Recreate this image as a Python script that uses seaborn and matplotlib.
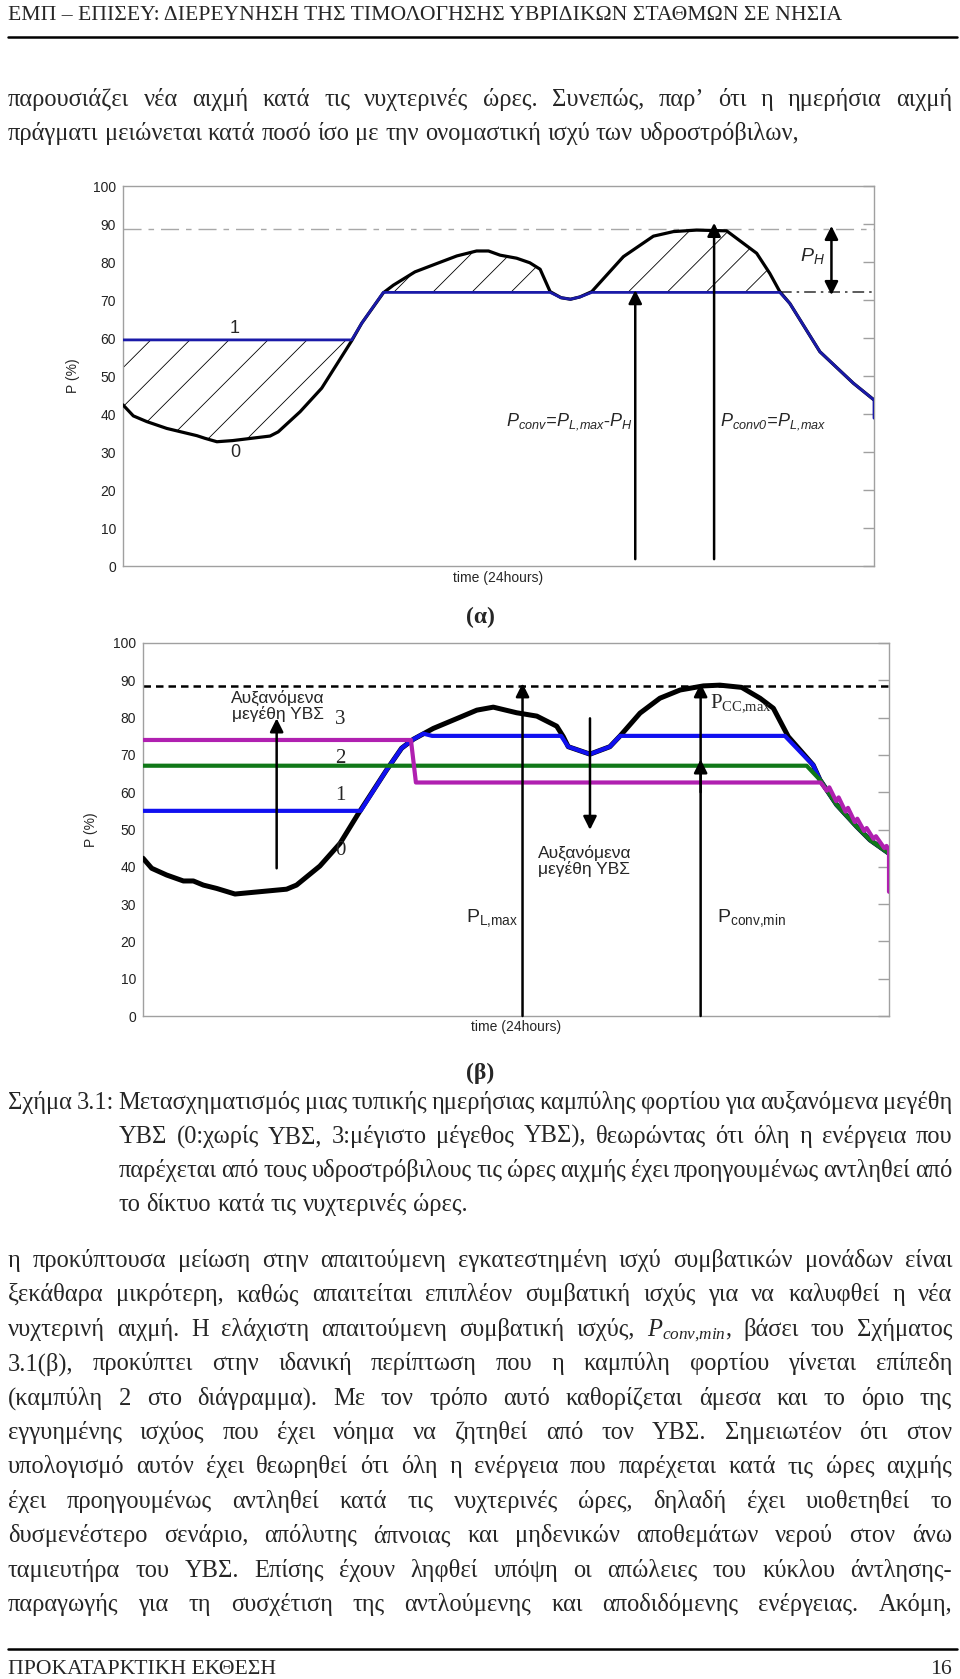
import matplotlib
matplotlib.use('Agg')
import numpy as np
import pandas as pd
import seaborn as sns
import matplotlib.pyplot as plt
from matplotlib.lines import Line2D

# ---------------- chart (α): load curve and shaved curve (1)
hours_a = [0, 0.33, 0.76, 1.40, 2.36, 2.62, 3.0, 3.5, 4.7, 4.96, 5.66, 6.35, 7.31, 7.63,
           8.32, 8.64, 9.33, 10.03, 10.67, 11.3, 11.68, 12.05, 12.58, 13.0, 13.33, 13.65,
           14.0, 14.3, 14.6, 14.98, 15.99, 16.95, 17.59, 18.33, 19.29, 20.25, 20.67, 20.99,
           21.31, 22.27, 23.34, 24.0]
load_a = [42.4, 39.5, 38.0, 36.2, 34.3, 33.6, 32.7, 33.0, 34.2, 35.3, 40.6, 46.8, 59.3, 63.9,
          71.9, 73.9, 77.4, 79.6, 81.6, 82.9, 82.9, 81.8, 81.0, 79.8, 78.1, 72.2,
          70.6, 70.2, 70.8, 72.2, 81.4, 86.8, 88.0, 88.4, 88.2, 82.3, 77.0, 72.2,
          69.1, 56.4, 48.1, 43.7]
shaved_h_a = [0, 7.31, 7.63, 8.32, 13.65, 14.0, 14.3, 14.6, 14.98, 20.99, 21.31, 22.27, 23.34, 24.0, 24.0]
shaved_a = [59.5, 59.5, 63.9, 72.0, 72.0, 70.6, 70.2, 70.8, 72.0, 72.0, 69.1, 56.4, 48.1, 43.7, 38.9]
valley_level_a = 59.5
cap_level_a = 72.0
peak_level_a = 88.6
# arrows (x, y_from, y_to)
arrows_a = [(16.37, 1.8, 72.6), (18.89, 1.8, 90.3)]
ph_arrow_a = (22.64, 71.3, 89.5)

# ---------------- chart (β): load curve and curves 1, 2, 3
hours_b = [0, 0.28, 0.76, 1.30, 1.62, 1.94, 2.37, 2.96, 4.62, 4.94, 5.69, 6.34, 6.93, 7.84,
           8.32, 8.70, 9.34, 10.2, 10.74, 11.27, 12.02, 12.67, 13.31, 13.52, 13.68, 14.38,
           15.02, 15.35, 15.99, 16.63, 17.28, 18.03, 18.56, 19.26, 19.85, 20.28, 20.76,
           21.56, 21.78, 22.32, 22.96, 23.39, 24.0]
load_b = [42.3, 39.6, 37.8, 36.2, 36.2, 35.1, 34.2, 32.7, 34.0, 35.1, 40.2, 46.3, 54.3, 66.0,
          71.8, 74.2, 77.1, 80.1, 82.0, 82.8, 81.3, 80.4, 77.7, 74.9, 72.2, 70.2,
          72.2, 75.1, 81.2, 85.2, 87.4, 88.5, 88.7, 88.1, 85.2, 82.5, 74.9,
          67.3, 63.3, 56.6, 50.8, 47.2, 43.6]
curve1_h = [0, 7.0, 7.84, 8.32, 8.70, 9.02, 9.3, 13.45, 13.68, 14.38, 15.02, 15.35, 20.65,
            21.33, 21.56, 21.78, 22.32, 22.96, 23.39, 24.0]
curve1 = [55.0, 55.0, 66.0, 71.8, 74.2, 75.7, 75.1, 75.1, 72.2, 70.2, 72.2, 75.1, 75.1,
          69.2, 67.3, 63.3, 56.6, 50.8, 47.2, 43.6]
curve2_h = [0, 21.35, 21.78, 22.32, 22.96, 23.39, 24.0]
curve2 = [67.1, 67.1, 63.3, 56.6, 50.8, 47.2, 43.6]
curve3_h = [0, 8.62, 8.78, 21.80, 22.0, 22.08, 22.3, 22.38, 22.6, 22.68, 22.9, 22.98, 23.2,
            23.28, 23.5, 23.58, 23.85, 23.92, 24.0, 24.0]
curve3 = [74.0, 74.0, 62.6, 62.6, 60.4, 61.3, 57.6, 58.6, 54.8, 55.8, 52.0, 52.9, 49.6,
          50.4, 47.5, 48.2, 45.0, 45.6, 44.5, 33.3]
pcc_level_b = 88.5
arrows_b = [(4.30, 39.6, 79.8), (12.21, 0.0, 89.2), (14.38, 79.8, 49.9),
            (17.94, 0.0, 89.2), (17.94, 60.0, 68.8)]

# ---------------- page text
header = "ΕΜΠ – ΕΠΙΣΕΥ: ΔΙΕΡΕΥΝΗΣΗ ΤΗΣ ΤΙΜΟΛΟΓΗΣΗΣ ΥΒΡΙΔΙΚΩΝ ΣΤΑΘΜΩΝ ΣΕ ΝΗΣΙΑ"
top_lines = ["παρουσιάζει νέα αιχμή κατά τις νυχτερινές ώρες. Συνεπώς, παρ’ ότι η ημερήσια αιχμή",
             "πράγματι μειώνεται κατά ποσό ίσο με την ονομαστική ισχύ των υδροστρόβιλων,"]
caption_lines = ["Σχήμα 3.1: Μετασχηματισμός μιας τυπικής ημερήσιας καμπύλης φορτίου για αυξανόμενα μεγέθη",
                 "ΥΒΣ (0:χωρίς ΥΒΣ, 3:μέγιστο μέγεθος ΥΒΣ), θεωρώντας ότι όλη η ενέργεια που",
                 "παρέχεται από τους υδροστρόβιλους τις ώρες αιχμής έχει προηγουμένως αντληθεί από",
                 "το δίκτυο κατά τις νυχτερινές ώρες."]
body_lines = ["η προκύπτουσα μείωση στην απαιτούμενη εγκατεστημένη ισχύ συμβατικών μονάδων είναι",
              "ξεκάθαρα μικρότερη, καθώς απαιτείται επιπλέον συμβατική ισχύς για να καλυφθεί η νέα",
              r"νυχτερινή αιχμή. Η ελάχιστη απαιτούμενη συμβατική ισχύς, $P_{conv{,}min}$, βάσει του Σχήματος",
              "3.1(β), προκύπτει στην ιδανική περίπτωση που η καμπύλη φορτίου γίνεται επίπεδη",
              "(καμπύλη 2 στο διάγραμμα). Με τον τρόπο αυτό καθορίζεται άμεσα και το όριο της",
              "εγγυημένης ισχύος που έχει νόημα να ζητηθεί από τον ΥΒΣ. Σημειωτέον ότι στον",
              "υπολογισμό αυτόν έχει θεωρηθεί ότι όλη η ενέργεια που παρέχεται κατά τις ώρες αιχμής",
              "έχει προηγουμένως αντληθεί κατά τις νυχτερινές ώρες, δηλαδή έχει υιοθετηθεί το",
              "δυσμενέστερο σενάριο, απόλυτης άπνοιας και μηδενικών αποθεμάτων νερού στον άνω",
              "ταμιευτήρα του ΥΒΣ. Επίσης έχουν ληφθεί υπόψη οι απώλειες του κύκλου άντλησης-",
              "παραγωγής για τη συσχέτιση της αντλούμενης και αποδιδόμενης ενέργειας. Ακόμη,"]
footer = "ΠΡΟΚΑΤΑΡΚΤΙΚΗ ΕΚΘΕΣΗ"
page_no = "16"

W, H = 960, 1679
sns.set_style('white')
plt.rcParams['font.family'] = ['Liberation Sans', 'DejaVu Sans']
plt.rcParams.update({
    'mathtext.fontset': 'custom',
    'mathtext.rm': 'Liberation Serif',
    'mathtext.it': 'Liberation Serif:italic',
    'mathtext.sf': 'Liberation Sans:italic',
    'mathtext.tt': 'Liberation Sans',
    'mathtext.bf': 'Liberation Serif:bold',
})

fig = plt.figure(figsize=(W / 100, H / 100), dpi=100)
rend = fig.canvas.get_renderer()
SERIF = 'Liberation Serif'


def fy(y):
    return 1 - y / H


def text_width(s, size, family=SERIF, **kw):
    t = fig.text(0, 0, s, fontsize=size, family=family, **kw)
    w = t.get_window_extent(rend).width
    t.remove()
    return w


SPACE15 = text_width('a a', 15) - text_width('aa', 15)


def put_line(s, x0, x1, y, size, justify=True):
    words = s.split(' ')
    arts = [fig.text(0, fy(y), w, fontsize=size, family=SERIF, va='baseline') for w in words]
    widths = [a.get_window_extent(rend).width for a in arts]
    if justify and len(words) > 1:
        gap = (x1 - x0 - sum(widths)) / (len(words) - 1)
    else:
        gap = SPACE15 * size / 15
    x, xs = x0, []
    for a, w in zip(arts, widths):
        a.set_x(x / W)
        xs.append(x)
        x += w + gap
    return xs


def fit_size(s, target, space_factor=1.0, base=15):
    words = s.split(' ')
    natural = sum(text_width(w, base) for w in words) + (len(words) - 1) * SPACE15 * space_factor
    return base * target / natural


def style_axes(ax):
    ax.set_xlim(0, 24)
    ax.set_ylim(0, 100)
    ax.set_xticks([])
    ax.set_yticks(range(0, 101, 10))
    ax.tick_params(axis='y', direction='in', length=8, color='#a0a0a0', width=1,
                   labelsize=10, labelcolor='#222222', right=True, labelright=False, pad=5)
    for sp in ax.spines.values():
        sp.set_color('#a0a0a0')
        sp.set_linewidth(1.0)
    ax.set_xlabel('time (24hours)', fontsize=10)
    ax.set_ylabel('P (%)', fontsize=10)


def hatch_region(ax, coll, step=0.052):
    # sparse diagonal hatch, clipped to each filled polygon
    bb = ax.get_position()
    ratio = (bb.width * W) / (bb.height * H)
    for p in coll.get_paths():
        for c in np.arange(-1.2, 1.1, step):
            ln, = ax.plot([c, c + 1 / ratio], [0, 1], transform=ax.transAxes,
                          color='black', lw=0.6, zorder=1)
            ln.set_clip_path(p, coll.get_transform())


# ================= chart (α)
ax1 = fig.add_axes([123 / W, 1 - 566 / H, 751 / W, 380 / H])
style_axes(ax1)
ax1.yaxis.set_label_coords(-0.057, 0.5)
ax1.xaxis.set_label_coords(0.5, -0.012)

ha = np.array(hours_a)
la = np.array(load_a)
ax1.axhline(peak_level_a, color='#a8a8a8', lw=1.0, dashes=(13, 5, 4, 5), zorder=1)
ax1.plot([20.99, 24], [cap_level_a, cap_level_a], color='#404040', lw=1.2,
         dashes=(7, 3, 1.5, 3), zorder=1)
c1 = ax1.fill_between(ha, la, valley_level_a, where=ha <= 7.31, interpolate=True,
                      facecolor='none', edgecolor='none')
c2 = ax1.fill_between(ha, la, cap_level_a, where=la >= cap_level_a, interpolate=True,
                      facecolor='none', edgecolor='none')
hatch_region(ax1, c1)
hatch_region(ax1, c2)

sns.lineplot(x=hours_a, y=load_a, ax=ax1, color='black', lw=2.3, sort=False,
             estimator=None, zorder=3)
sns.lineplot(x=shaved_h_a, y=shaved_a, ax=ax1, color='#1a1aa8', lw=2.0, sort=False,
             estimator=None, zorder=4)

for x, y0, y1 in arrows_a:
    ax1.annotate('', xy=(x, y1), xytext=(x, y0),
                 arrowprops=dict(arrowstyle='-|>', color='black', lw=1.8,
                                 mutation_scale=20, shrinkA=0, shrinkB=0), zorder=5)
x, y0, y1 = ph_arrow_a
ax1.annotate('', xy=(x, y1), xytext=(x, y0),
             arrowprops=dict(arrowstyle='<|-|>', color='black', lw=1.8,
                             mutation_scale=20, shrinkA=0, shrinkB=0), zorder=5)

ax1.text(3.58, 62.5, '1', fontsize=13, ha='center', va='center')
ax1.text(3.58, 29.8, '0', fontsize=13, ha='center', va='center')
ax1.text(22.04, 81.5, r'$\mathsf{P_H}$', fontsize=14, ha='center', va='center')
ax1.text(16.3, 38.0, r'$\mathsf{P_{conv}\!=\!P_{L{,}max}\text{-}P_H}$', fontsize=13,
         ha='right', va='center')
ax1.text(19.08, 38.0, r'$\mathsf{P_{conv0}\!=\!P_{L{,}max}}$', fontsize=13,
         ha='left', va='center')

# ================= chart (β)
ax2 = fig.add_axes([143 / W, 1 - 1016 / H, 746 / W, 373 / H])
style_axes(ax2)
ax2.yaxis.set_label_coords(-0.060, 0.5)
ax2.xaxis.set_label_coords(0.5, -0.012)

ax2.axhline(pcc_level_b, color='black', lw=1.8, dashes=(3, 2), zorder=1)
sns.lineplot(x=hours_b, y=load_b, ax=ax2, color='black', lw=3.6, sort=False,
             estimator=None, zorder=3)
sns.lineplot(x=curve1_h, y=curve1, ax=ax2, color='#1010f0', lw=3.0, sort=False,
             estimator=None, zorder=4)
sns.lineplot(x=curve2_h, y=curve2, ax=ax2, color='#107818', lw=3.0, sort=False,
             estimator=None, zorder=5)
sns.lineplot(x=curve3_h, y=curve3, ax=ax2, color='#b020b0', lw=3.0, sort=False,
             estimator=None, zorder=6)

for x, y0, y1 in arrows_b:
    ax2.annotate('', xy=(x, y1), xytext=(x, y0),
                 arrowprops=dict(arrowstyle='-|>', color='black', lw=1.8,
                                 mutation_scale=20, shrinkA=0, shrinkB=0), zorder=7)

ax2.text(4.35, 83.2, 'Αυξανόμενα\nμεγέθη ΥΒΣ', fontsize=12.5, ha='center', va='center',
         linespacing=1.0, zorder=8)
ax2.text(14.2, 41.6, 'Αυξανόμενα\nμεγέθη ΥΒΣ', fontsize=12.5, ha='center', va='center',
         linespacing=1.0)
for lab, yv in [('3', 79.4), ('2', 69.1), ('1', 59.2), ('0', 44.3)]:
    ax2.text(6.35, yv, lab, fontsize=15, family=SERIF, ha='center', va='center')
ax2.text(18.24, 83.8, r'$\mathrm{P_{CC{,}max}}$', fontsize=15, ha='left', va='center')
ax2.text(12.07, 26.2, r'$\mathtt{P_{L{,}max}}$', fontsize=14, ha='right', va='center')
ax2.text(18.46, 26.2, r'$\mathtt{P_{conv{,}min}}$', fontsize=14, ha='left', va='center')

# ================= page text
hsize = fit_size(header, 837)
fig.text(8.5 / W, fy(15), header, fontsize=hsize, family=SERIF, va='center')
fig.add_artist(Line2D([8 / W, 957 / W], [fy(37), fy(37)], color='black', lw=1.8))

# body size: line 2 fills ~835 px, justified lines may tighten their spaces a bit
cap_indent_guess = 122
sizes = [fit_size(top_lines[1], 835), fit_size(top_lines[0], 944, 0.6),
         fit_size(caption_lines[0], 944, 0.6),
         fit_size(caption_lines[1], 952 - cap_indent_guess, 0.6),
         fit_size(caption_lines[2], 952 - cap_indent_guess, 0.6)]
sizes += [fit_size(l, 944, 0.6) for l in body_lines]
bsize = min(sizes)

put_line(top_lines[0], 8, 952, 106, bsize)
put_line(top_lines[1], 8, 952, 140, bsize, justify=False)

fig.text(480 / W, fy(617), '(α)', fontsize=17, family=SERIF, weight='bold',
         ha='center', va='center')
fig.text(480 / W, fy(1073), '(β)', fontsize=17, family=SERIF, weight='bold',
         ha='center', va='center')

xs = put_line(caption_lines[0], 8, 952, 1109, bsize)
indent = xs[2]
put_line(caption_lines[1], indent, 952, 1143, bsize)
put_line(caption_lines[2], indent, 952, 1177, bsize)
put_line(caption_lines[3], indent, 952, 1211, bsize, justify=False)

for i, line in enumerate(body_lines):
    put_line(line, 8, 952, 1267 + 34.4 * i, bsize)

fig.add_artist(Line2D([8 / W, 957 / W], [fy(1649), fy(1649)], color='black', lw=1.8))
fig.text(8.5 / W, fy(1670), footer, fontsize=hsize, family=SERIF, va='center')
fig.text(952 / W, fy(1670), page_no, fontsize=hsize, family=SERIF, va='center', ha='right')

fig.savefig('out.png', dpi=100)
